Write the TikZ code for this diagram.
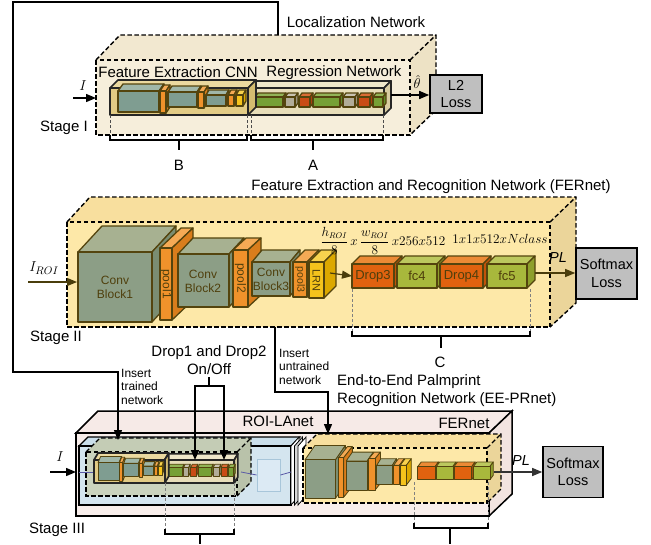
\documentclass[tikz,border=0pt]{standalone}
\usepackage{fontspec}
\setmainfont{Liberation Sans}
\usepackage{amsmath}
\usepackage{graphicx}
\usetikzlibrary{arrows.meta}

% block colours: F = front, T = top, S = side
\definecolor{convF}{HTML}{8C9E86}\definecolor{convT}{HTML}{A7B191}\definecolor{convS}{HTML}{7B8D71}
\definecolor{poolF}{HTML}{F0922B}\definecolor{poolT}{HTML}{F5AA55}\definecolor{poolS}{HTML}{D97D1C}
\definecolor{lrnF}{HTML}{F5C31C}\definecolor{lrnT}{HTML}{F8D24E}\definecolor{lrnS}{HTML}{DCA800}
\definecolor{dropF}{HTML}{E0620F}\definecolor{dropT}{HTML}{EC8A35}\definecolor{dropS}{HTML}{C2530A}
\definecolor{fcF}{HTML}{A8B83C}\definecolor{fcT}{HTML}{BCC85E}\definecolor{fcS}{HTML}{8E9F2C}
\definecolor{tealF}{HTML}{7F9D91}\definecolor{tealT}{HTML}{A0B7A9}\definecolor{tealS}{HTML}{6D8B7E}
\definecolor{gnF}{HTML}{76A036}\definecolor{gnT}{HTML}{92B457}\definecolor{gnS}{HTML}{5F8A28}
\definecolor{grF}{HTML}{B2AC98}\definecolor{grT}{HTML}{C9C3B1}\definecolor{grS}{HTML}{9A947E}
\definecolor{rdF}{HTML}{C94B15}\definecolor{rdT}{HTML}{DA6C35}\definecolor{rdS}{HTML}{AD3E0E}
\definecolor{stripF}{HTML}{E2CB85}\definecolor{stripT}{HTML}{EBD9A0}\definecolor{stripS}{HTML}{D3BB70}
\definecolor{regF}{HTML}{E7DDB9}\definecolor{regT}{HTML}{EFE7CA}\definecolor{regS}{HTML}{D8CCA2}
% container colours
\definecolor{locF}{HTML}{F6EEDB}\definecolor{locT}{HTML}{F2E8D0}\definecolor{locS}{HTML}{EDE2C5}
\definecolor{ferF}{HTML}{FDE8A8}\definecolor{ferT}{HTML}{F8DF9E}\definecolor{ferS}{HTML}{EBD59A}
\definecolor{pinkF}{HTML}{F8EEEB}\definecolor{pinkT}{HTML}{F6EAE7}\definecolor{pinkS}{HTML}{F2E4E0}
\definecolor{blueF}{HTML}{D4E5EF}\definecolor{blueT}{HTML}{CADEEA}
\definecolor{gbF}{HTML}{CBD3BE}\definecolor{gbT}{HTML}{C4CCB5}\definecolor{gbS}{HTML}{B9C2AA}
\definecolor{sqF}{HTML}{DCEAF4}\definecolor{sqD}{HTML}{A8C6DA}
\definecolor{lossF}{HTML}{BFBFBF}
\definecolor{edge}{HTML}{54440E}
\definecolor{btext}{HTML}{4F3F0C}
\definecolor{olive}{HTML}{4A3D0C}

\tikzset{
  blk/.style={draw=edge, line width=1.3pt, line join=round},
  lbl/.style={font=\fontsize{15}{18}\selectfont, inner sep=0pt},
  small/.style={font=\fontsize{12}{13.5}\selectfont, inner sep=0pt, align=left},
  blab/.style={font=\fontsize{12}{14}\selectfont, text=btext, align=center, inner sep=0pt},
  lossbox/.style={draw=black, line width=1.6pt, fill=lossF, align=center,
                  font=\fontsize{14.5}{17.5}\selectfont, inner sep=0pt},
  dbox/.style={draw=black, line width=1.4pt, dash pattern=on 4.5pt off 2.5pt, line join=miter},
  sbox/.style={draw=black, line width=1.5pt, line join=miter},
  conn/.style={draw=black, line width=1.4pt},
  arr/.style={-{Triangle[length=10pt,width=8pt]}},
  guide/.style={draw=gray, line width=0.9pt, dash pattern=on 3pt off 2pt},
  brk/.style={draw=black, line width=1.3pt},
}

% \cub[options]{x}{y}{w}{h}{dx}{dy}{colour family}: a cuboid seen from the front
\newcommand\cub[8][]{%
  \filldraw[blk,fill=#8T,#1] (#2,#3) -- (#2+#6,#3+#7) -- (#2+#4+#6,#3+#7) -- (#2+#4,#3) -- cycle;
  \filldraw[blk,fill=#8S,#1] (#2+#4,#3) -- (#2+#4+#6,#3+#7) -- (#2+#4+#6,#3+#5+#7) -- (#2+#4,#3+#5) -- cycle;
  \filldraw[blk,fill=#8F,#1] (#2,#3) rectangle (#2+#4,#3+#5);}

% layer strip of the localization network (feature extraction + regression)
\newcommand\locblocks{%
  \cub[draw=black!85,line width=1.7pt]{248}{88}{136}{27}{7}{-7}{reg}
  \cub{255}{97}{28}{10}{3}{-4}{gn}
  \cub{285}{97}{10}{10}{3}{-4}{gr}
  \cub{299}{97}{11}{10}{3}{-4}{rd}
  \cub{313}{97}{27}{10}{3}{-4}{gn}
  \cub{343}{97}{12}{10}{3}{-4}{gr}
  \cub{358}{97}{12}{10}{3}{-4}{rd}
  \cub{373}{97}{10}{10}{3}{-4}{gn}
  \cub[draw=black!85,line width=1.7pt]{110}{88}{138}{27}{8}{-8}{strip}
  \cub{118}{91}{41}{21}{5}{-7}{teal}
  \cub{160}{91}{6}{22}{4}{-6}{pool}
  \cub{168}{92}{29}{15}{4}{-6}{teal}
  \cub{198}{92}{6}{16}{4}{-6}{pool}
  \cub{206}{95}{20}{11}{3}{-5}{teal}
  \cub{228}{95}{6}{11}{3}{-5}{pool}
  \cub{236}{95}{7}{11}{3}{-5}{lrn}}

% layers of the recognition network
\newcommand\ferblocks{%
  \cub{78}{252}{74}{70}{24}{-26}{conv}
  \cub{160}{248}{12}{72}{21}{-20}{pool}
  \cub{178}{254}{51}{53}{15}{-16}{conv}
  \cub{233}{250}{15}{57}{13}{-12}{pool}
  \cub{252}{262}{38}{34}{10}{-12}{conv}
  \cub{293}{262}{14}{35}{12}{-12}{pool}
  \cub{309}{262}{15}{36}{12}{-12}{lrn}
  \cub{352}{264}{42}{24}{8}{-8}{drop}
  \cub{397}{264}{40}{24}{8}{-8}{fc}
  \cub{440}{264}{43}{24}{8}{-8}{drop}
  \cub{487}{264}{40}{24}{8}{-8}{fc}}

\begin{document}
\begin{tikzpicture}[x=1pt,y=-1pt]
\useasboundingbox[fill=white] (0,0) rectangle (651,544);

% ---------------- Stage I: localization network ----------------
\fill[locT] (96,60) -- (120,35) -- (436,35) -- (410,60) -- cycle;
\fill[locS] (410,60) -- (436,35) -- (436,110) -- (410,135) -- cycle;
\fill[locF] (96,60) rectangle (410,135);
\draw[dbox] (96,60) rectangle (410,135);
\draw[dbox] (96,60) -- (120,35) -- (436,35) -- (436,110) -- (410,135);
\draw[dbox] (410,60) -- (436,35);
\coordinate (loctop) at (278,35);
\coordinate (locin) at (96,98);

\node[lbl] (locname) at (356,22) {Localization Network};
\node[lbl] (fecnn) at (178,72) {Feature Extraction CNN};
\node[lbl] (regnet) at (334,73) {Regression Network};
\node[lbl] (st1) at (64,128) {Stage I};

\locblocks
\coordinate (locout) at (391,95);

\node[lossbox, minimum width=52pt, minimum height=38pt] (l2) at (456,94) {L2\\Loss};
\draw[conn,arr] (locout) -- (locout -| l2.west);
\node[lbl, font=\fontsize{15}{18}\selectfont] (theta) at (417,82) {$\hat{\theta}$};
\coordinate (inI) at (73,98);
\draw[conn,arr] (inI) -- (locin);
\node[lbl, font=\fontsize{15}{18}\selectfont] (labI) at (83,86) {$I$};

\draw[guide,draw=black!70] (110,115) -- (110,135);
\draw[guide,draw=black!70] (247,115) -- (247,135);
\draw[guide,draw=black!70] (251,115) -- (251,135);
\draw[guide,draw=black!70] (383,115) -- (383,135);
\draw[brk] (110,135) -- (110,140) -- (247,140) -- (247,135);
\draw[brk] (179,140) -- (179,150);
\draw[brk] (251,135) -- (251,140) -- (383,140) -- (383,135);
\draw[brk] (313,140) -- (313,150);
\node[lbl] (labB) at (179,165) {B};
\node[lbl] (labA) at (313,165) {A};

% ---------------- Stage II: FERnet ----------------
\node[lbl] (fername) at (431,187) {Feature Extraction and Recognition Network (FERnet)};
\fill[ferT] (67,222) -- (90,197) -- (576,197) -- (550,222) -- cycle;
\fill[ferS] (550,222) -- (576,197) -- (576,303) -- (550,327) -- cycle;
\fill[ferF] (67,222) rectangle (550,327);
\draw[dbox] (67,222) rectangle (550,327);
\draw[dbox] (67,222) -- (90,197) -- (576,197) -- (576,303) -- (550,327);
\draw[dbox] (550,222) -- (576,197);
\coordinate (ferbot) at (275,327);

\ferblocks
\node[blab] (cb1) at (115,287) {Conv\\Block1};
\node[blab] (cb2) at (203,281) {Conv\\Block2};
\node[blab] (cb3) at (271,279) {Conv\\Block3};
\node[blab,rotate=-90] (p1) at (166,284) {pool1};
\node[blab,rotate=-90] (p2) at (240.5,278) {pool2};
\node[blab,rotate=-90,font=\fontsize{10.5}{12}\selectfont] (p3) at (300,279.5) {pool3};
\node[blab,rotate=-90,font=\fontsize{11}{12}\selectfont] (lrn) at (316.5,280) {LRN};
\node[blab,font=\fontsize{13}{15}\selectfont] (d3) at (373,276) {Drop3};
\node[blab,font=\fontsize{13}{15}\selectfont] (f4) at (417,276) {fc4};
\node[blab,font=\fontsize{13}{15}\selectfont] (d4) at (461.5,276) {Drop4};
\node[blab,font=\fontsize{13}{15}\selectfont] (f5) at (507,276) {fc5};

\node[lbl, font=\fontsize{13.5}{16}\selectfont] (dimA) at (383,241)
  {\scalebox{0.92}{$\displaystyle\frac{h_{ROI}}{8}\,x\,\frac{w_{ROI}}{8}\,x256x512$}};
\node[lbl, font=\fontsize{13.5}{16}\selectfont] (dimB) at (500,239)
  {\scalebox{0.92}{$1x1x512xNclass$}};

\coordinate (lrnout) at (330,273);
\draw[draw=olive,line width=1.2pt,-{Triangle[length=10pt,width=8pt]}] (lrnout) -- (d3.west -| 352,0);
\node[lossbox, minimum width=61pt, minimum height=51pt] (sm1) at (606.5,273.5) {Softmax\\Loss};
\coordinate (fc5out) at (535,273);
\draw[draw=olive,line width=1.2pt,-{Triangle[length=10pt,width=8pt]}] (fc5out) -- (fc5out -| sm1.west);
\node[lbl, font=\itshape\fontsize{14.5}{17}\selectfont] (pl1) at (558,258) {PL};
\node[lbl, font=\fontsize{15}{18}\selectfont] (labIroi) at (44,268) {$I_{ROI}$};
\coordinate (roiin) at (28,282);
\draw[draw=olive,line width=1.2pt,-{Triangle[length=10pt,width=8pt]}] (roiin) -- (77,282);
\node[lbl] (st2) at (56,338) {Stage II};

\draw[guide] (352,289) -- (352,331);
\draw[guide] (530,289) -- (530,331);
\draw[brk] (352,331) -- (352,336) -- (530,336) -- (530,331);
\draw[brk] (441,336) -- (441,348);
\node[lbl] (labC) at (440,362) {C};

% ---------------- Stage III: EE-PRnet ----------------
\node[lbl, align=left, anchor=west] (eename) at (337,391)
  {End-to-End Palmprint\\Recognition Network (EE-PRnet)};
\node[lbl, align=center] (dropnote) at (209,360) {Drop1 and Drop2\\On/Off};

% outer box
\filldraw[sbox,fill=pinkT] (76,433) -- (98,411) -- (512,411) -- (489,433) -- cycle;
\filldraw[sbox,fill=pinkS] (489,433) -- (512,411) -- (512,494) -- (489,516) -- cycle;
\filldraw[sbox,fill=pinkF] (76,433) rectangle (489,516);

% ROI-LAnet part
\filldraw[sbox,line width=1.2pt,fill=blueT] (79,446) -- (88,437) -- (300,437) -- (291,446) -- cycle;
\filldraw[sbox,line width=1.2pt,fill=blueF] (79,446) rectangle (291,505);
\foreach \k/\c in {0/white,1/gray!30,2/white}
  \filldraw[draw=black,line width=0.8pt,fill=\c]
    (291+3.5*\k,446) -- (299+3.5*\k,437) -- (299+3.5*\k,496) -- (291+3.5*\k,505) -- cycle;
\node[lbl] (roilanet) at (278,421) {ROI-LAnet};

\fill[gbT] (86,452) -- (100,438) -- (251,438) -- (237,452) -- cycle;
\fill[gbS] (237,452) -- (251,438) -- (251,482) -- (237,496) -- cycle;
\fill[gbF] (86,452) rectangle (237,496);
\draw[dbox,line width=1.2pt] (86,452) rectangle (237,496);
\draw[dbox,line width=1.2pt] (86,452) -- (100,438) -- (251,438) -- (251,482) -- (237,496);
\draw[dbox,line width=1.2pt] (237,452) -- (251,438);
\coordinate (gbtop) at (118,440);

\draw[draw=gray!70!blue,line width=0.8pt] (79,472) -- (94,472);
\begin{scope}[shift={(94,453)}, xscale=0.512, yscale=0.86, shift={(-110,-80)},
              blk/.append style={line width=0.8pt}]
  \locblocks
\end{scope}
\coordinate (t1) at (195,460);
\coordinate (t2) at (224,460);
\node[draw=sqD, line width=0.8pt, fill=sqF, minimum width=23pt,
      minimum height=32pt, inner sep=0pt] (sq) at (268.5,475) {};
\draw[draw=gray!70!blue,line width=0.8pt] (241,472) -- (sq.west);
\draw[draw=gray!70!blue,line width=0.8pt] (sq.east) -- (291,472);

% FERnet part
\fill[ferT] (303,448) -- (317,434) -- (501,434) -- (487,448) -- cycle;
\fill[ferS] (487,448) -- (501,434) -- (501,489) -- (487,503) -- cycle;
\fill[ferF] (303,448) rectangle (487,503);
\draw[dbox,line width=1.2pt] (303,448) rectangle (487,503);
\draw[dbox,line width=1.2pt] (303,448) -- (317,434) -- (501,434) -- (501,489) -- (487,503);
\draw[dbox,line width=1.2pt] (487,448) -- (501,434);
\coordinate (fertop) at (328,434);
\node[lbl] (fernet) at (464,423) {FERnet};
\begin{scope}[shift={(305,473)}, xscale=0.412, yscale=0.55, shift={(-78,-276)},
              blk/.append style={line width=0.8pt}]
  \ferblocks
\end{scope}

\node[lossbox, minimum width=60pt, minimum height=51pt] (sm2) at (573,472) {Softmax\\Loss};
\coordinate (ee-out) at (494,472);
\draw[draw=black!80,line width=1.1pt,arr] (ee-out) -- (ee-out -| sm2.west);
\node[lbl, font=\itshape\fontsize{14.5}{17}\selectfont] (pl2) at (521,461) {PL};

\coordinate (inIII) at (50,472);
\draw[conn,arr] (inIII) -- (76,472);
\node[lbl, font=\fontsize{15}{18}\selectfont] (labI3) at (60,457) {$I$};
\node[lbl] (st3) at (57,530) {Stage III};

\draw[guide] (165,483) -- (165,529);
\draw[guide] (234,483) -- (234,529);
\draw[brk] (165,529) -- (165,534) -- (234,534) -- (234,529);
\draw[brk] (200,534) -- (200,544);
\draw[guide] (414,482) -- (414,523);
\draw[guide] (488,482) -- (488,523);
\draw[brk] (414,523) -- (414,528) -- (488,528) -- (488,523);
\draw[brk] (450,528) -- (450,544);

% ---------------- connectors between stages ----------------
\draw[conn,arr] (loctop) -- ++(0,-33) -| (13,372) -| (gbtop);
\node[small, anchor=north west] (ins1) at (121,369) {Insert\\trained\\network};
\draw[conn,arr] (ferbot) -- ++(0,65) -| (fertop);
\node[small, anchor=north west] (ins2) at (279,349) {Insert\\untrained\\network};
\coordinate (dj) at (209,386);
\draw[conn] (dropnote.south |- 0,377) -- (dj);
\draw[conn,arr] (dj) -| (t1);
\draw[conn,arr] (dj) -| (t2);

\end{tikzpicture}
\end{document}
